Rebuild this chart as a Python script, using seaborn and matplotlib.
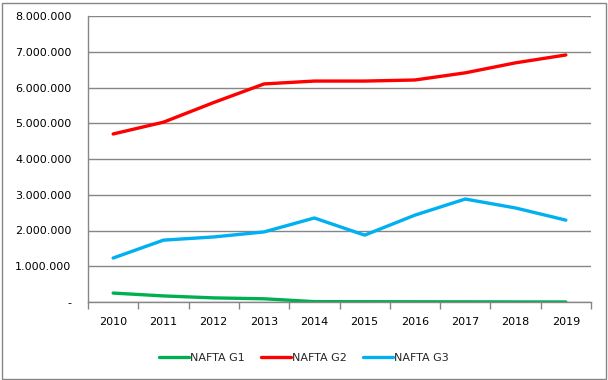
import matplotlib
matplotlib.use("Agg")
import matplotlib.pyplot as plt
import seaborn as sns
import pandas as pd
from matplotlib.ticker import FixedLocator, FuncFormatter

years = ["2010", "2011", "2012", "2013", "2014", "2015", "2016", "2017", "2018", "2019"]
g1 = [250000, 170000, 115000, 90000, 10000, 8000, 6000, 5000, 2000, 1000]
g2 = [4700000, 5030000, 5580000, 6100000, 6180000, 6180000, 6210000, 6410000, 6690000, 6910000]
g3 = [1230000, 1730000, 1820000, 1960000, 2350000, 1870000, 2430000, 2880000, 2630000, 2290000]
series_names = ["NAFTA G1", "NAFTA G2", "NAFTA G3"]
colors = ["#00B050", "#FF0000", "#00B0F0"]

rows = []
for name, vals in zip(series_names, [g1, g2, g3]):
    for i, v in enumerate(vals):
        rows.append({"idx": i, "value": v, "series": name})
df = pd.DataFrame(rows)

sns.set_theme(style="white")
plt.rcParams['font.family'] = ['DejaVu Sans']
FS = 8.0

fig = plt.figure(figsize=(6.08, 3.80), dpi=100)
ax = fig.add_axes([88/608, 78/380, 503/608, 286/380])

sns.lineplot(data=df, x="idx", y="value", hue="series", palette=colors,
             linewidth=2.4, ax=ax, legend=True)

ax.set_xlim(-0.5, len(years) - 0.5)
ax.set_ylim(0, 8000000)
ax.set_yticks(range(0, 8000001, 1000000))
ax.yaxis.set_major_formatter(FuncFormatter(lambda v, p: "-" if v == 0 else f"{int(v):,}".replace(",", ".")))
ax.grid(axis="y", color="#868686", linewidth=1)
ax.set_axisbelow(True)

ax.xaxis.set_major_locator(FixedLocator([i - 0.5 for i in range(len(years) + 1)]))
ax.xaxis.set_major_formatter(FuncFormatter(lambda v, p: ""))
ax.set_xticks(list(range(len(years))), minor=True)
ax.set_xticklabels(years, minor=True)
ax.tick_params(axis="x", which="major", direction="out", length=5, color="#868686", width=1, bottom=True)
ax.tick_params(axis="x", which="minor", length=0, pad=11, labelsize=FS, labelcolor="black")
ax.tick_params(axis="y", length=0, pad=12, labelsize=FS, labelcolor="black")

for s in ["top", "right"]:
    ax.spines[s].set_visible(False)
for s in ["left", "bottom"]:
    ax.spines[s].set_color("#868686")
    ax.spines[s].set_linewidth(1)
ax.set_xlabel("")
ax.set_ylabel("")

leg = ax.legend(loc="center", frameon=False, ncol=3, fontsize=FS,
                handlelength=2.7, columnspacing=1.5, handletextpad=0.05)
leg.set_bbox_to_anchor((0.5, (380 - 358) / 380), transform=fig.transFigure)
for line in leg.get_lines():
    line.set_linewidth(2.4)

border = plt.Rectangle((1.5/608, 1.5/380), 604/608, 376/380, transform=fig.transFigure,
                       fill=False, edgecolor="#868686", linewidth=1)
fig.patches.append(border)

fig.savefig("out.png", dpi=100)
